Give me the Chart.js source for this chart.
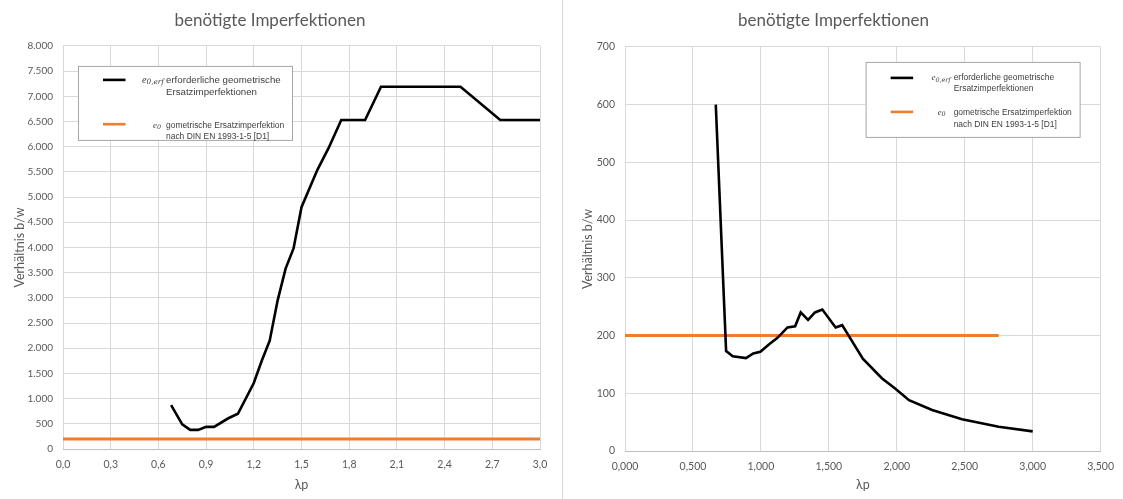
<!DOCTYPE html>
<html>
<head>
<meta charset="utf-8">
<script src="https://cdn.jsdelivr.net/npm/chart.js@4.4.0/dist/chart.umd.min.js"></script>
<style>
  html, body { margin: 0; padding: 0; background: #ffffff; }
  #wrap { position: relative; width: 1123px; height: 499px; overflow: hidden; }
  .panel { position: absolute; top: 0; height: 499px; }
  #leftPanel { left: 0; width: 562px; }
  #rightPanel { left: 564px; width: 559px; }
  #sep { position: absolute; left: 562px; top: 0; width: 1px; height: 499px; background: #d9d9d9; }
</style>
</head>
<body>
<div id="wrap">
  <div class="panel" id="leftPanel"><canvas id="leftChart" width="562" height="499"></canvas></div>
  <div id="sep"></div>
  <div class="panel" id="rightPanel"><canvas id="rightChart" width="559" height="499"></canvas></div>
</div>
<script>
// ---- shared text ----
const chartTitle = 'benötigte Imperfektionen';
const xAxisTitle = 'λp';
const yAxisTitle = 'Verhältnis b/w';
const legendSymbols = ['e', 'e'];
const legendSubscripts = ['0,erf', '0'];
const legendLines = [
  ['erforderliche geometrische', 'Ersatzimperfektionen'],
  ['gometrische Ersatzimperfektion', 'nach DIN EN 1993-1-5 [D1]']
];

// ---- left chart: required imperfection (b/w up to 8.000) ----
const leftLambda = [0.68, 0.75, 0.80, 0.85, 0.90, 0.95, 1.04, 1.10, 1.20, 1.25, 1.30, 1.35, 1.40, 1.45, 1.50, 1.60, 1.67, 1.75, 1.90, 2.00, 2.50, 2.75, 3.00];
const leftRatio  = [870, 490, 380, 380, 440, 440, 610, 700, 1310, 1750, 2150, 2950, 3580, 3980, 4800, 5540, 5970, 6530, 6530, 7190, 7190, 6530, 6530];
const leftNormLambda = [0.0, 3.0];
const leftNormRatio  = [200, 200];
const leftXTicks = [0.0, 0.3, 0.6, 0.9, 1.2, 1.5, 1.8, 2.1, 2.4, 2.7, 3.0];
const leftYTicks = [0, 500, 1000, 1500, 2000, 2500, 3000, 3500, 4000, 4500, 5000, 5500, 6000, 6500, 7000, 7500, 8000];

// ---- right chart: required imperfection (b/w up to 700) ----
const rightLambda = [0.668, 0.744, 0.793, 0.890, 0.944, 0.996, 1.061, 1.122, 1.196, 1.252, 1.293, 1.347, 1.398, 1.452, 1.550, 1.598, 1.750, 1.890, 1.990, 2.090, 2.260, 2.480, 2.750, 3.000];
const rightRatio  = [600, 173, 164, 161, 169, 172, 185, 196, 214, 216, 240, 227, 240, 245, 214, 218, 160, 126, 108, 88, 71, 55, 42, 34];
const rightNormLambda = [0.0, 2.75];
const rightNormRatio  = [200, 200];
const rightXTicks = [0, 0.5, 1.0, 1.5, 2.0, 2.5, 3.0, 3.5];
const rightYTicks = [0, 100, 200, 300, 400, 500, 600, 700];

const pairs = (xs, ys) => xs.map((x, i) => ({ x: x, y: ys[i] }));

const TEXT_GREY = '#595959';
const GRID_GREY = '#d9d9d9';
const LINE_BLACK = '#000000';
const LINE_ORANGE = '#ed7d31';

// Legend box drawn inside the plot area with the formula symbol + two-line text
const boxLegend = {
  id: 'boxLegend',
  afterDraw(chart, args, o) {
    const ctx = chart.ctx;
    const ca = chart.chartArea;
    const x0 = o.anchor === 'right' ? ca.right - o.offsetX - o.width : ca.left + o.offsetX;
    const y0 = ca.top + o.offsetY;
    ctx.save();
    ctx.fillStyle = '#ffffff';
    ctx.fillRect(x0, y0, o.width, o.height);
    ctx.strokeStyle = '#a6a6a6';
    ctx.lineWidth = 1;
    ctx.strokeRect(x0 + 0.5, y0 + 0.5, o.width, o.height);
    chart.data.datasets.forEach((ds, i) => {
      const e = o.entries[i];
      const fs = e.fontSize;
      // line sample
      ctx.strokeStyle = ds.borderColor;
      ctx.lineWidth = 2.6;
      ctx.beginPath();
      ctx.moveTo(x0 + 25, y0 + e.sample);
      ctx.lineTo(x0 + 47.5, y0 + e.sample);
      ctx.stroke();
      // formula symbol, right-aligned
      ctx.fillStyle = '#404040';
      ctx.textBaseline = 'alphabetic';
      const subFont = 'italic ' + (fs * 0.75) + 'px "DejaVu Serif", "Liberation Serif", serif';
      const symFont = 'italic ' + (fs * 1.05) + 'px "Liberation Serif", serif';
      ctx.font = subFont;
      const sub = legendSubscripts[i];
      const subW = ctx.measureText(sub).width;
      ctx.font = symFont;
      const symW = ctx.measureText(legendSymbols[i]).width;
      const right = x0 + e.symRight;
      const base = y0 + e.lines[0] + fs * 0.3;
      ctx.textAlign = 'left';
      ctx.fillText(legendSymbols[i], right - subW - symW, base);
      ctx.font = subFont;
      ctx.fillText(sub, right - subW, base + fs * 0.15);
      // two-line description
      ctx.font = fs + 'px "Liberation Sans", Arial, sans-serif';
      ctx.textBaseline = 'middle';
      legendLines[i].forEach((t, k) => ctx.fillText(t, x0 + 88, y0 + e.lines[k]));
    });
    ctx.restore();
  }
};

function buildChart(canvasId, cfg) {
  return new Chart(document.getElementById(canvasId), {
    type: 'line',
    data: {
      datasets: [
        { label: legendLines[0].join(' '), data: pairs(cfg.lambda, cfg.ratio), borderColor: LINE_BLACK, borderWidth: 2.6, pointRadius: 0, tension: 0, order: 1 },
        { label: legendLines[1].join(' '), data: pairs(cfg.normLambda, cfg.normRatio), borderColor: LINE_ORANGE, borderWidth: 3, pointRadius: 0, tension: 0, order: 2 }
      ]
    },
    options: {
      responsive: false,
      animation: false,
      devicePixelRatio: 1,
      layout: { padding: { left: 0, right: cfg.padRight, top: 0, bottom: 0 } },
      plugins: {
        legend: { display: false },
        tooltip: { enabled: false },
        title: {
          display: true,
          text: chartTitle,
          color: TEXT_GREY,
          font: { family: 'Lato, "Open Sans", sans-serif', size: 17, weight: 'normal' },
          padding: { top: 10.5, bottom: cfg.titleBottom }
        },
        boxLegend: cfg.legend
      },
      scales: {
        x: {
          type: 'linear',
          min: cfg.xTicks[0],
          max: cfg.xTicks[cfg.xTicks.length - 1],
          afterBuildTicks: s => { s.ticks = cfg.xTicks.map(v => ({ value: v })); },
          afterFit: s => { s.height = cfg.xHeight; },
          grid: { color: GRID_GREY, drawTicks: false, lineWidth: 1 },
          border: { display: true, color: '#bfbfbf' },
          ticks: {
            color: TEXT_GREY,
            font: { family: 'Lato, sans-serif', size: 10.5 },
            padding: 9,
            maxRotation: 0,
            autoSkip: false,
            callback: v => v.toFixed(cfg.xDecimals).replace('.', ',')
          },
          title: {
            display: true,
            text: xAxisTitle,
            color: TEXT_GREY,
            font: { family: 'Lato, sans-serif', size: 12.5 },
            padding: { top: 0, bottom: 7 }
          }
        },
        y: {
          type: 'linear',
          min: cfg.yTicks[0],
          max: cfg.yTicks[cfg.yTicks.length - 1],
          afterBuildTicks: s => { s.ticks = cfg.yTicks.map(v => ({ value: v })); },
          afterFit: s => { s.width = cfg.yWidth; },
          grid: { color: GRID_GREY, drawTicks: false, lineWidth: 1 },
          border: { display: false },
          ticks: {
            color: TEXT_GREY,
            font: { family: 'Lato, sans-serif', size: cfg.yTickSize },
            padding: 10,
            autoSkip: false,
            callback: v => v >= 1000 ? Math.floor(v / 1000) + '.' + String(v % 1000).padStart(3, '0') : String(v)
          },
          title: {
            display: true,
            text: yAxisTitle,
            color: TEXT_GREY,
            font: { family: 'Lato, sans-serif', size: 12.5 },
            padding: { top: cfg.yTitlePad, bottom: 0 }
          }
        }
      }
    },
    plugins: [boxLegend]
  });
}

buildChart('leftChart', {
  lambda: leftLambda, ratio: leftRatio,
  normLambda: leftNormLambda, normRatio: leftNormRatio,
  xTicks: leftXTicks, yTicks: leftYTicks, xDecimals: 1, yTickSize: 10,
  padRight: 22, titleBottom: 15, xHeight: 50, yWidth: 63, yTitlePad: 12.5,
  legend: {
    anchor: 'left', offsetX: 15, offsetY: 20, width: 214, height: 74,
    entries: [
      { sample: 14, symRight: 86, lines: [14, 26.7], fontSize: 9.7 },
      { sample: 58.3, symRight: 83, lines: [59.7, 70.5], fontSize: 8.45 }
    ]
  }
});

buildChart('rightChart', {
  lambda: rightLambda, ratio: rightRatio,
  normLambda: rightNormLambda, normRatio: rightNormRatio,
  xTicks: rightXTicks, yTicks: rightYTicks, xDecimals: 3, yTickSize: 10.5,
  padRight: 20, titleBottom: 16, xHeight: 48, yWidth: 61, yTitlePad: 16.5,
  legend: {
    anchor: 'right', offsetX: 21, offsetY: 15, width: 214, height: 75,
    entries: [
      { sample: 16, symRight: 85, lines: [16, 27], fontSize: 8.5 },
      { sample: 50, symRight: 80, lines: [50.4, 62.5], fontSize: 8.45 }
    ]
  }
});
</script>
</body>
</html>
